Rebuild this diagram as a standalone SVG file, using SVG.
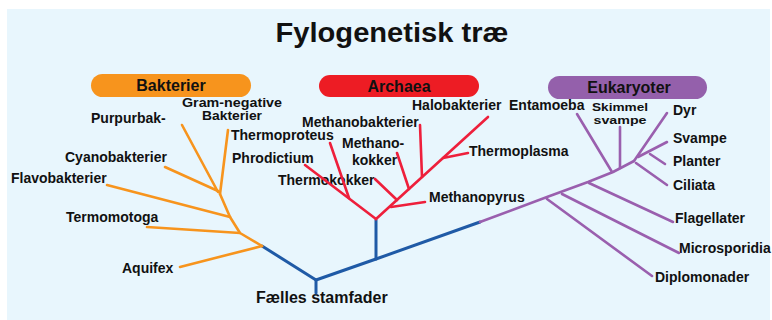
<svg xmlns="http://www.w3.org/2000/svg" width="772" height="320" viewBox="0 0 772 320">
<style>
.lbl{font-family:"Liberation Sans",Arial,sans-serif;font-weight:bold;font-size:14px;fill:#111}
.sm{font-size:12.5px}
.xs{font-size:11.5px}
.pill{font-family:"Liberation Sans",Arial,sans-serif;font-weight:bold;font-size:16px;fill:#111;text-anchor:middle}
.ln{fill:none;stroke-width:2.6;stroke-linecap:round;stroke-linejoin:round}
.b{stroke:#f7941d}.a{stroke:#ee1f3b}.e{stroke:#9a5fae}.t{stroke:#1f5aa6;stroke-width:3}
</style>
<rect x="7" y="9" width="763" height="311" fill="#e8f6fd"/>
<text x="392" y="42" font-family="'Liberation Sans',Arial,sans-serif" font-weight="bold" font-size="27" fill="#111" text-anchor="middle" textLength="233" lengthAdjust="spacingAndGlyphs">Fylogenetisk træ</text>
<g id="bakterier">
<rect x="91" y="74" width="160" height="23" rx="11.5" fill="#f7941d"/>
<text class="pill" x="171" y="91">Bakterier</text>
</g>
<g id="archaea">
<rect x="319" y="75" width="160" height="22" rx="11" fill="#ed1c24"/>
<text class="pill" x="399" y="92">Archaea</text>
</g>
<g id="eukaryoter">
<rect x="548" y="76" width="159" height="23" rx="11.5" fill="#9460ab"/>
<text class="pill" x="629" y="93">Eukaryoter</text>
</g>
<g id="labels">
<text class="lbl" x="91" y="123">Purpurbak-</text>
<text class="lbl sm" x="232" y="107" text-anchor="middle" textLength="100" lengthAdjust="spacingAndGlyphs">Gram-negative</text>
<text class="lbl sm" x="232" y="120" text-anchor="middle" textLength="60" lengthAdjust="spacingAndGlyphs">Bakterier</text>
<text class="lbl" x="65" y="162">Cyanobakterier</text>
<text class="lbl" x="11" y="183">Flavobakterier</text>
<text class="lbl" x="66" y="222">Termomotoga</text>
<text class="lbl" x="122" y="273">Aquifex</text>
<text class="lbl" x="231" y="140">Thermoproteus</text>
<text class="lbl" x="232" y="163">Phrodictium</text>
<text class="lbl" x="278" y="185">Thermokokker</text>
<text class="lbl" x="302" y="127">Methanobakterier</text>
<text class="lbl" x="342" y="148">Methano-</text>
<text class="lbl" x="352" y="165">kokker</text>
<text class="lbl" x="412" y="110">Halobakterier</text>
<text class="lbl" x="509" y="110">Entamoeba</text>
<text class="lbl" x="469" y="156">Thermoplasma</text>
<text class="lbl" x="429" y="202">Methanopyrus</text>
<text class="lbl xs" x="620" y="111" text-anchor="middle" textLength="56" lengthAdjust="spacingAndGlyphs">Skimmel</text>
<text class="lbl xs" x="620" y="124" text-anchor="middle" textLength="53" lengthAdjust="spacingAndGlyphs">svampe</text>
<text class="lbl" x="673" y="115">Dyr</text>
<text class="lbl" x="673" y="143">Svampe</text>
<text class="lbl" x="673" y="166">Planter</text>
<text class="lbl" x="673" y="190">Ciliata</text>
<text class="lbl" x="675" y="223">Flagellater</text>
<text class="lbl" x="679" y="253">Microsporidia</text>
<text class="lbl" x="655" y="282">Diplomonader</text>
<text x="256" y="303" font-family="'Liberation Sans',Arial,sans-serif" font-weight="bold" font-size="16" fill="#111">Fælles stamfader</text>
</g>
<g id="connectors">
<polyline class="ln t" points="262,246 316,280 376,259 480,222"/>
<line class="ln t" x1="316" y1="280" x2="316" y2="293"/>
<line class="ln t" x1="376" y1="259" x2="376" y2="220"/>
<polyline class="ln b" points="262,246 240,233 230,217 220,194"/>
<line class="ln b" x1="262" y1="246" x2="180" y2="267"/>
<line class="ln b" x1="240" y1="233" x2="147" y2="227"/>
<line class="ln b" x1="230" y1="217" x2="107" y2="185"/>
<line class="ln b" x1="218" y1="191" x2="165" y2="167"/>
<line class="ln b" x1="218" y1="192" x2="182" y2="125"/>
<line class="ln b" x1="220" y1="194" x2="228" y2="130"/>
<line class="ln a" x1="376" y1="219" x2="488" y2="117"/>
<line class="ln a" x1="376" y1="219" x2="305" y2="165"/>
<line class="ln a" x1="349" y1="198" x2="330" y2="143"/>
<line class="ln a" x1="397" y1="200" x2="375" y2="179"/>
<line class="ln a" x1="409" y1="189" x2="397" y2="153"/>
<line class="ln a" x1="422" y1="177" x2="420" y2="125"/>
<line class="ln a" x1="443" y1="158" x2="468" y2="153"/>
<line class="ln a" x1="391" y1="207" x2="425" y2="202"/>
<polyline class="ln e" points="480,222 547,197 588,182 613,172 634,161"/>
<line class="ln e" x1="547" y1="199" x2="652" y2="276"/>
<line class="ln e" x1="562" y1="194" x2="679" y2="253"/>
<line class="ln e" x1="589" y1="183" x2="673" y2="222"/>
<line class="ln e" x1="612" y1="172" x2="577" y2="114"/>
<line class="ln e" x1="620" y1="168" x2="620" y2="127"/>
<line class="ln e" x1="634" y1="161" x2="667" y2="113"/>
<line class="ln e" x1="638" y1="157" x2="667" y2="142"/>
<line class="ln e" x1="650" y1="154" x2="665" y2="164"/>
<line class="ln e" x1="636" y1="163" x2="667" y2="185"/>
</g>
</svg>
